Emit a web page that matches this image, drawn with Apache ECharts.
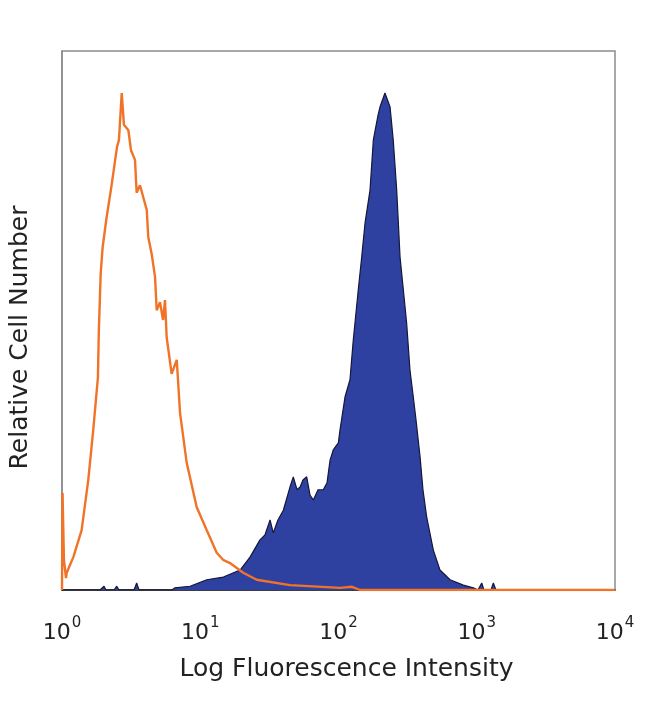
<!DOCTYPE html>
<html>
<head>
<meta charset="utf-8">
<script src="https://cdn.jsdelivr.net/npm/echarts@6/dist/echarts.min.js"></script>
<style>
html,body{margin:0;padding:0;background:#fff;}
#chart{width:650px;height:704px;}
</style>
</head>
<body>
<div id="chart"></div>
<script>
// x values are log10(fluorescence intensity); y values are relative cell number (peak-normalised)
const tickExponents = [0, 1, 2, 3, 4];

const controlX = [0, 0.004, 0.014, 0.029, 0.034, 0.082, 0.142, 0.19, 0.226, 0.26, 0.266, 0.28, 0.294, 0.323, 0.357, 0.398, 0.412, 0.432, 0.448, 0.48, 0.499, 0.528, 0.54, 0.564, 0.613, 0.624, 0.649, 0.673, 0.685, 0.709, 0.731, 0.745, 0.757, 0.793, 0.83, 0.854, 0.902, 0.974, 1.047, 1.119, 1.165, 1.215, 1.311, 1.408, 1.649, 2.011, 2.098, 2.156, 4];
const controlY = [0, 18.0, 5.6, 2.2, 3.2, 6.1, 11.1, 20.4, 29.7, 39.5, 47.7, 58.8, 63.6, 69.2, 74.8, 82.2, 83.5, 92.2, 86.3, 85.3, 81.6, 79.8, 73.7, 75.1, 70.5, 65.5, 62.3, 58.1, 51.9, 53.4, 50.1, 53.8, 46.9, 40.1, 42.7, 32.8, 23.6, 15.4, 11.1, 6.9, 5.6, 5.0, 3.2, 1.9, 0.9, 0.4, 0.6, 0, 0];

const stainedX = [0, 0.275, 0.304, 0.318, 0.376, 0.396, 0.412, 0.521, 0.54, 0.557, 0.796, 0.817, 0.926, 1.047, 1.167, 1.288, 1.36, 1.432, 1.468, 1.505, 1.528, 1.562, 1.601, 1.649, 1.673, 1.7, 1.722, 1.743, 1.77, 1.794, 1.818, 1.852, 1.89, 1.917, 1.939, 1.962, 1.999, 2.011, 2.047, 2.083, 2.107, 2.119, 2.143, 2.168, 2.192, 2.228, 2.252, 2.286, 2.3, 2.336, 2.373, 2.396, 2.421, 2.433, 2.445, 2.469, 2.493, 2.517, 2.541, 2.561, 2.59, 2.611, 2.638, 2.686, 2.734, 2.807, 2.903, 2.975, 3.009, 3.036, 3.052, 3.103, 3.12, 3.139, 4];
const stainedY = [0, 0, 0.7, 0, 0, 0.7, 0, 0, 1.3, 0, 0, 0.4, 0.7, 1.9, 2.4, 3.7, 6.1, 9.3, 10.2, 13.0, 10.6, 13.0, 14.8, 19.1, 21.0, 18.6, 19.1, 20.4, 21.0, 17.6, 16.7, 18.6, 18.6, 19.9, 24.1, 26.0, 27.3, 29.7, 35.8, 39.0, 46.4, 49.5, 55.7, 61.8, 68.1, 74.2, 83.5, 88.1, 89.6, 92.2, 89.6, 83.5, 74.2, 68.1, 61.8, 55.7, 49.5, 40.8, 35.8, 31.5, 24.7, 18.6, 13.5, 7.4, 3.7, 1.9, 0.9, 0.4, 0, 1.3, 0, 0, 1.3, 0, 0];

const xTitle = 'Log Fluorescence Intensity';
const yTitle = 'Relative Cell Number';

const pairs = (xs, ys) => xs.map((x, i) => [x, ys[i]]);

const chart = echarts.init(document.getElementById('chart'), null, {renderer: 'canvas'});
chart.setOption({
  animation: false,
  backgroundColor: '#ffffff',
  grid: {left: 62, right: 35, top: 51, bottom: 114, show: true, borderColor: '#8c8c8c', borderWidth: 1.5, backgroundColor: 'transparent'},
  xAxis: {
    type: 'value', min: tickExponents[0], max: tickExponents[tickExponents.length - 1], interval: 1,
    axisLine: {show: true, lineStyle: {color: '#1a1a1a', width: 1.5}},
    axisTick: {show: false},
    splitLine: {show: false},
    axisLabel: {
      margin: 26,
      formatter: v => '{b|10}{s|' + v + '}',
      rich: {
        b: {fontFamily: 'DejaVu Sans', fontSize: 22, color: '#222', lineHeight: 28, verticalAlign: 'bottom'},
        s: {fontFamily: 'DejaVu Sans', fontSize: 15, color: '#222', verticalAlign: 'top', padding: [0, 0, 0, 1]}
      }
    },
    name: xTitle, nameLocation: 'middle', nameGap: 67,
    nameTextStyle: {fontFamily: 'DejaVu Sans', fontSize: 25, color: '#222', padding: [0, 0, 0, 16]}
  },
  yAxis: {
    type: 'value', min: 0, max: 100,
    axisLine: {show: true, lineStyle: {color: '#8c8c8c', width: 1.5}},
    axisTick: {show: false}, axisLabel: {show: false}, splitLine: {show: false},
    name: yTitle, nameLocation: 'middle', nameGap: 29,
    nameTextStyle: {fontFamily: 'DejaVu Sans', fontSize: 25, color: '#222', padding: [0, 34, 0, 0]}
  },
  series: [
    {
      type: 'line', data: pairs(stainedX, stainedY), showSymbol: false, z: 2,
      lineStyle: {color: '#15173a', width: 1.2},
      areaStyle: {color: '#2e41a1', opacity: 1}
    },
    {
      type: 'line', data: pairs(controlX, controlY), showSymbol: false, z: 3,
      lineStyle: {color: '#f07328', width: 2.4}
    }
  ]
});
</script>
</body>
</html>
